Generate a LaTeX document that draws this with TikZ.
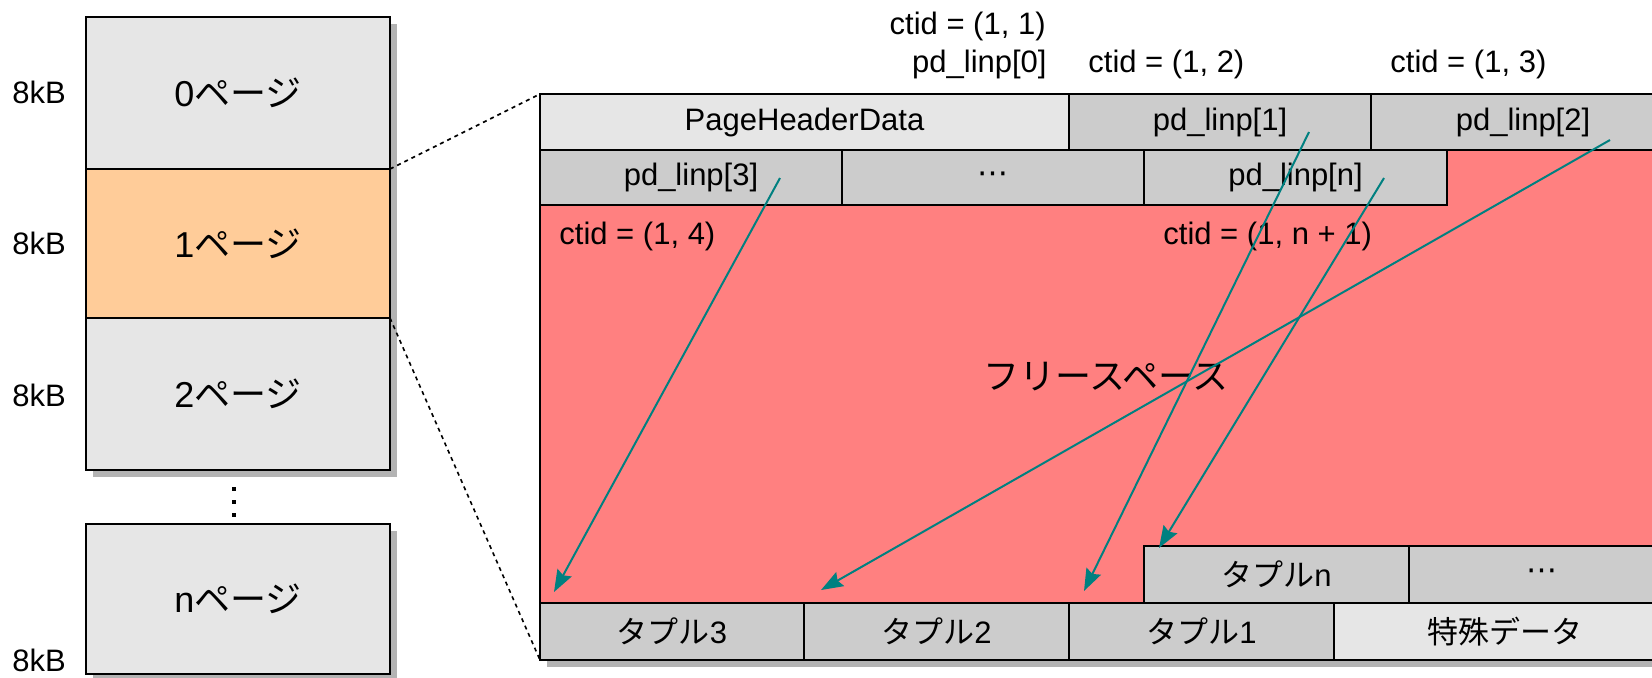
\documentclass[tikz,border=0pt]{standalone}
\usepackage{fontspec}
\setmainfont{Liberation Sans}
\newfontfamily\jpfont{Noto Sans CJK JP}
\newfontfamily\dvfont{DejaVu Sans}
\usetikzlibrary{arrows.meta}
\definecolor{lgray}{HTML}{E6E6E6}
\definecolor{mgray}{HTML}{CCCCCC}
\definecolor{shgray}{HTML}{B3B3B3}
\definecolor{peach}{HTML}{FFCC99}
\definecolor{freered}{HTML}{FF8080}
\definecolor{tealc}{HTML}{008080}
\begin{document}
\begin{tikzpicture}[x=0.5pt,y=-0.5pt,
 lbl/.style={font=\fontsize{15.5}{18}\selectfont, inner sep=0pt},
 big/.style={font=\fontsize{18}{21}\selectfont, inner sep=0pt},
 pagebox/.style={draw=black, line width=0.85pt, minimum width=152pt, inner sep=0pt, outer sep=0pt, big, anchor=north west},
 cell/.style={draw=black, line width=0.85pt, inner sep=0pt, outer sep=0pt, anchor=north west, lbl},
 ptr/.style={draw=tealc, line width=1pt, -{Stealth[length=11pt,width=8pt,inset=1.5pt]}},
 zoomline/.style={line width=0.8pt, dash pattern=on 2pt off 2pt},
]
\path[use as bounding box] (0,0) rectangle (1652,677);
\clip (0,0) rectangle (1652,677);

% shadows
\fill[shgray] (93,24) rectangle (397,477);
\fill[shgray] (93,531) rectangle (397,681);
\fill[shgray] (547,101) rectangle (1682,667);

% left page stack
\node[pagebox, fill=lgray, minimum height=76pt] (b0) at (86,17) {0{\jpfont ページ}};
\node[pagebox, fill=peach, minimum height=74.5pt] (b1) at (86,169) {1{\jpfont ページ}};
\node[pagebox, fill=lgray, minimum height=76pt] (b2) at (86,318) {2{\jpfont ページ}};
\node[pagebox, fill=lgray, minimum height=75pt] (bn) at (86,524) {n{\jpfont ページ}};
\draw[line width=2pt, dash pattern=on 2pt off 4.5pt] (234,487) -- (234,517);

\node[lbl] (k0) at (39,92) {8kB};
\node[lbl] (k1) at (39,243) {8kB};
\node[lbl] (k2) at (39,395) {8kB};
\node[lbl] (kn) at (39,660) {8kB};

% enlarged page
\fill[freered] (540,150) rectangle (1675,660);
\coordinate (pgNW) at (540,94);
\coordinate (pgSW) at (540,660);

\node[cell, fill=lgray, minimum width=264.5pt, minimum height=28pt] (phd) at (540,94) {PageHeaderData};
\node[cell, fill=mgray, minimum width=151pt, minimum height=28pt] (lp1) at (1069,94) {pd\_linp[1]};
\node[cell, fill=mgray, minimum width=152pt, minimum height=28pt] (lp2) at (1371,94) {pd\_linp[2]};
\node[cell, fill=mgray, minimum width=151pt, minimum height=27.5pt] (lp3) at (540,150) {pd\_linp[3]};
\node[cell, fill=mgray, minimum width=151pt, minimum height=27.5pt] (lpd) at (842,150) {{\dvfont ⋯}};
\node[cell, fill=mgray, minimum width=151.5pt, minimum height=27.5pt] (lpn) at (1144,150) {pd\_linp[n]};

\node[cell, fill=mgray, minimum width=132.5pt, minimum height=28.5pt] (tn) at (1144,546) {{\jpfont タプル}n};
\node[cell, fill=mgray, minimum width=133pt, minimum height=28.5pt] (td) at (1409,546) {{\dvfont ⋯}};
\node[cell, fill=mgray, minimum width=132pt, minimum height=28.5pt] (t3) at (540,603) {{\jpfont タプル}3};
\node[cell, fill=mgray, minimum width=132.5pt, minimum height=28.5pt] (t2) at (804,603) {{\jpfont タプル}2};
\node[cell, fill=mgray, minimum width=132.5pt, minimum height=28.5pt] (t1) at (1069,603) {{\jpfont タプル}1};
\node[cell, fill=lgray, minimum width=170.5pt, minimum height=28.5pt] (sp) at (1334,603) {{\jpfont 特殊データ}};

\draw[line width=0.85pt] (540,94) rectangle (1675,660);

% labels
\node[lbl, anchor=base east] (c1) at (1046,34) {ctid = (1, 1)};
\node[lbl, anchor=base east] (l0) at (1047,72) {pd\_linp[0]};
\node[lbl, anchor=base west] (c2) at (1088,72) {ctid = (1, 2)};
\node[lbl, anchor=base west] (c3) at (1390,72) {ctid = (1, 3)};
\node[lbl, anchor=base west] (c4) at (559,244) {ctid = (1, 4)};
\node[lbl, anchor=base west] (cn) at (1163,244) {ctid = (1, n + 1)};
\node[big] (free) at (1106,377) {\jpfont フリースペース};

% zoom lines
\draw[zoomline] (b1.north east) -- (pgNW);
\draw[zoomline] (b1.south east) -- (pgSW);

% pointers
\coordinate (a3s) at (780,178);
\coordinate (a3e) at (554,592);
\coordinate (a1s) at (1309,132);
\coordinate (a1e) at (1084,591);
\coordinate (a2s) at (1610,140);
\coordinate (a2e) at (821,590);
\coordinate (ans) at (1384,178);
\coordinate (ane) at (1159,548);
\draw[ptr] (a3s) -- (a3e);
\draw[ptr] (a1s) -- (a1e);
\draw[ptr] (a2s) -- (a2e);
\draw[ptr] (ans) -- (ane);
\end{tikzpicture}
\end{document}
